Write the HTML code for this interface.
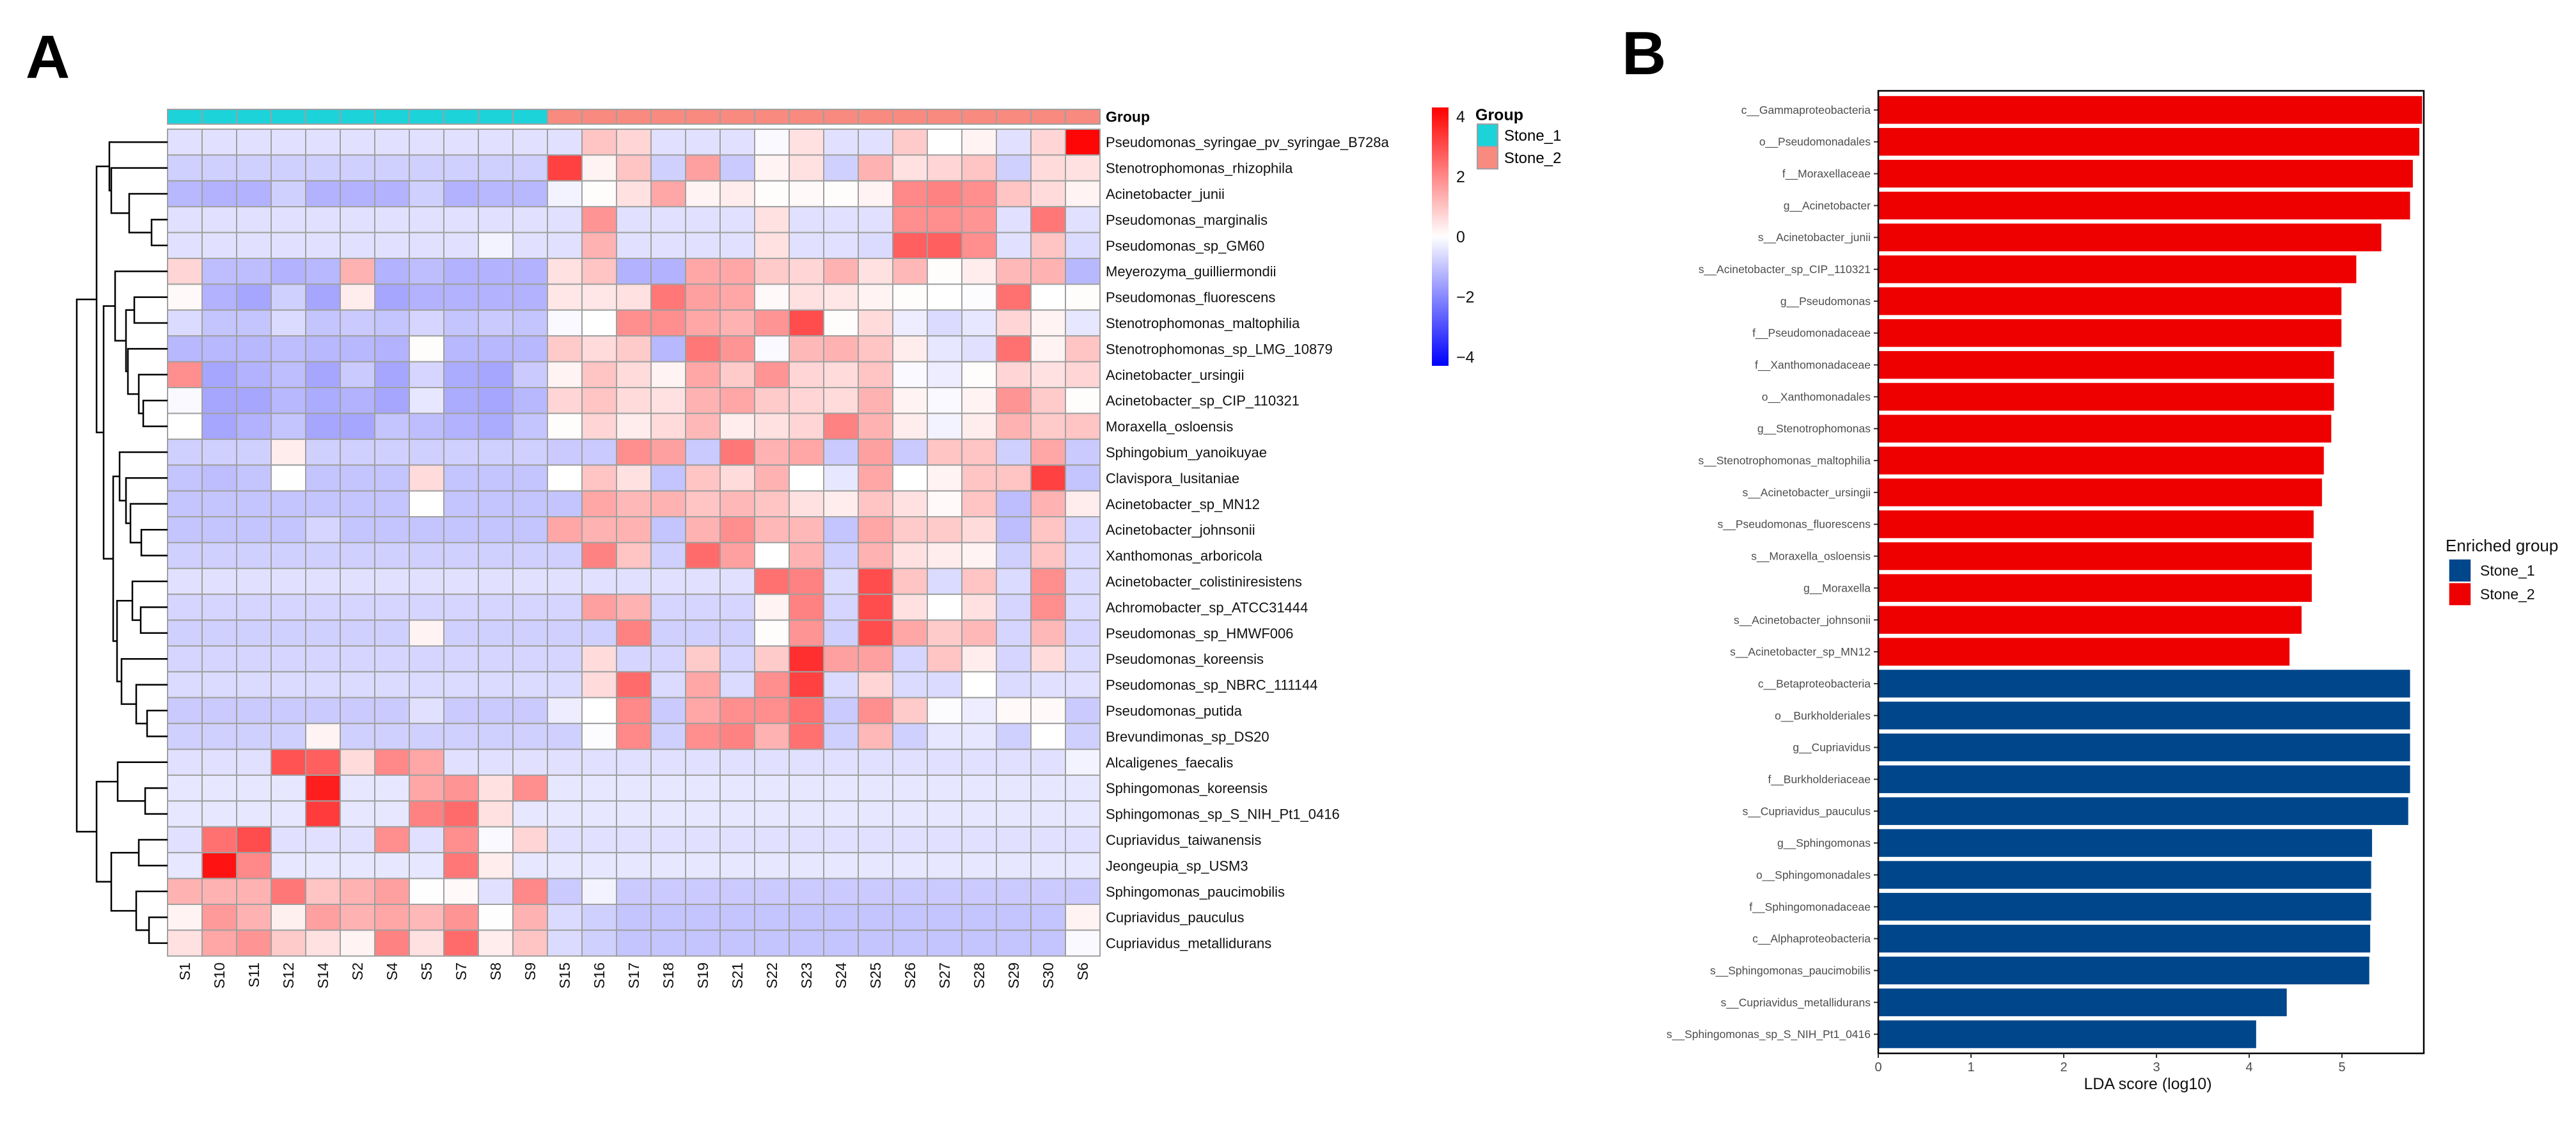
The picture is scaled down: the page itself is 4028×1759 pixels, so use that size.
<!DOCTYPE html>
<html><head><meta charset="utf-8"><style>
html,body{margin:0;padding:0;background:#fff;}
svg{display:block;font-family:"Liberation Sans",Arial,sans-serif;}
</style></head><body>
<svg id="fig" width="4028" height="1759" viewBox="0 0 4028 1759" xmlns="http://www.w3.org/2000/svg">
<rect width="4028" height="1759" fill="#fff"/>
<text x="40" y="122" font-size="96" font-weight="bold">A</text>
<text x="2536" y="116" font-size="96" font-weight="bold">B</text>
<g id="heat"></g>
<g id="dendro"></g>
<g id="cbar"></g>
<g id="glegend"></g>
<g id="lda"></g>
</svg>
<script>
const NS="http://www.w3.org/2000/svg";
// ---------- Panel A data ----------
const samples=["S1","S10","S11","S12","S14","S2","S4","S5","S7","S8","S9","S15","S16","S17","S18","S19","S21","S22","S23","S24","S25","S26","S27","S28","S29","S30","S6"];
const sampleGroups=[1,1,1,1,1,1,1,1,1,1,1,2,2,2,2,2,2,2,2,2,2,2,2,2,2,2,2];
const taxa=["Pseudomonas_syringae_pv_syringae_B728a","Stenotrophomonas_rhizophila","Acinetobacter_junii","Pseudomonas_marginalis","Pseudomonas_sp_GM60","Meyerozyma_guilliermondii","Pseudomonas_fluorescens","Stenotrophomonas_maltophilia","Stenotrophomonas_sp_LMG_10879","Acinetobacter_ursingii","Acinetobacter_sp_CIP_110321","Moraxella_osloensis","Sphingobium_yanoikuyae","Clavispora_lusitaniae","Acinetobacter_sp_MN12","Acinetobacter_johnsonii","Xanthomonas_arboricola","Acinetobacter_colistiniresistens","Achromobacter_sp_ATCC31444","Pseudomonas_sp_HMWF006","Pseudomonas_koreensis","Pseudomonas_sp_NBRC_111144","Pseudomonas_putida","Brevundimonas_sp_DS20","Alcaligenes_faecalis","Sphingomonas_koreensis","Sphingomonas_sp_S_NIH_Pt1_0416","Cupriavidus_taiwanensis","Jeongeupia_sp_USM3","Sphingomonas_paucimobilis","Cupriavidus_pauculus","Cupriavidus_metallidurans"];
const zscores=[
[-0.5,-0.5,-0.5,-0.5,-0.5,-0.5,-0.5,-0.5,-0.5,-0.5,-0.5,-0.5,1.0,0.7,-0.5,-0.5,-0.5,-0.1,0.5,-0.5,-0.5,0.9,0,0.2,-0.5,0.7,4.2],
[-0.8,-0.8,-0.8,-0.8,-0.8,-0.8,-0.8,-0.8,-0.8,-0.8,-0.8,3.2,0.2,1.0,-0.8,1.6,-0.9,0.2,0.5,-0.8,1.3,0.5,0.7,1.0,-0.8,0.6,0.5],
[-1.2,-1.3,-1.3,-0.8,-1.3,-1.3,-1.3,-0.8,-1.3,-1.2,-1.2,-0.2,0.05,0.5,1.5,0.2,0.3,0.05,0.1,0.05,0.2,2.0,2.1,1.9,1.0,0.6,0.2],
[-0.5,-0.5,-0.5,-0.5,-0.5,-0.5,-0.5,-0.5,-0.5,-0.5,-0.5,-0.5,1.8,-0.5,-0.5,-0.5,-0.5,0.5,-0.5,-0.5,-0.5,1.9,1.9,1.8,-0.5,2.3,-0.5],
[-0.5,-0.5,-0.5,-0.5,-0.5,-0.5,-0.5,-0.5,-0.5,-0.2,-0.5,-0.5,1.3,-0.5,-0.5,-0.5,-0.5,0.5,-0.5,-0.5,-0.6,2.7,2.7,1.9,-0.5,1.0,-0.6],
[0.7,-1.1,-1.1,-1.3,-1.2,1.3,-1.3,-1.1,-1.3,-1.3,-1.3,0.5,1.0,-1.3,-1.3,1.5,1.5,0.9,0.7,1.3,0.5,1.2,0.05,0.3,1.2,1.3,-1.2],
[0.1,-1.3,-1.5,-0.8,-1.5,0.3,-1.5,-1.3,-1.3,-1.3,-1.3,0.4,0.4,0.5,2.3,1.6,1.5,0.1,0.5,0.4,0.2,0.05,0,-0.05,2.4,0,0.05],
[-0.6,-1.0,-1.0,-0.6,-1.0,-0.9,-1.0,-0.7,-1.0,-0.9,-1.0,-0.1,0,1.9,1.9,1.5,1.3,1.8,3.0,0.05,0.6,-0.3,-0.6,-0.4,0.7,0.2,-0.4],
[-1.2,-1.2,-1.2,-1.1,-1.2,-1.2,-1.3,0.05,-1.2,-1.2,-1.2,0.9,0.6,0.9,-1.2,2.3,1.8,-0.1,1.2,1.3,1.0,0.3,-0.4,-0.5,2.4,0.2,1.0],
[1.9,-1.5,-1.3,-1.1,-1.5,-0.9,-1.5,-0.7,-1.4,-1.5,-0.9,0.2,1.0,0.6,0.2,1.5,0.9,1.8,0.7,0.6,1.0,-0.1,-0.3,0.05,0.7,0.5,0.7],
[-0.1,-1.5,-1.5,-1.2,-1.4,-1.3,-1.5,-0.4,-1.4,-1.5,-1.2,0.7,1.0,0.6,0.5,1.3,1.5,0.9,0.7,0.6,1.3,0.2,-0.1,0.2,1.8,0.9,0.05],
[0,-1.5,-1.3,-1.0,-1.5,-1.5,-1.0,-1.1,-1.3,-1.4,-1.0,0.05,0.7,0.3,0.6,1.2,0.3,0.5,0.7,2.1,1.3,0.3,-0.2,0.3,1.3,0.9,1.0],
[-0.8,-0.8,-0.8,0.3,-0.8,-0.8,-0.8,-0.8,-0.8,-0.8,-0.8,-0.9,-0.9,1.9,1.6,-0.9,2.3,1.3,1.5,-0.9,1.6,-0.9,1.0,1.0,-0.8,1.5,-0.9],
[-1.0,-1.1,-1.0,0.02,-1.0,-1.0,-1.0,0.6,-1.0,-1.0,-1.0,0,1.0,0.5,-1.0,1.0,0.6,1.3,0,-0.4,1.5,0,0.2,1.0,1.0,3.2,-1.0],
[-1.0,-1.0,-1.0,-1.0,-1.0,-1.0,-1.0,0,-1.0,-1.0,-1.0,-1.0,1.5,1.2,1.3,1.0,1.2,1.0,0.5,0.3,1.0,0.5,0.1,1.0,-1.1,1.3,0.3],
[-1.0,-1.0,-1.0,-1.0,-0.7,-1.0,-1.0,-1.0,-1.0,-1.0,-1.0,1.5,1.3,1.3,-1.0,1.3,1.9,1.2,1.2,-1.0,1.5,0.9,0.9,0.6,-1.1,1.0,-0.7],
[-0.8,-0.8,-0.8,-0.8,-0.8,-0.8,-0.8,-0.8,-0.8,-0.8,-0.8,-0.8,2.1,1.0,-0.8,2.5,1.6,0,1.3,-0.8,1.3,0.5,0.3,0.2,-0.8,1.0,-0.6],
[-0.5,-0.5,-0.5,-0.5,-0.5,-0.5,-0.5,-0.5,-0.5,-0.5,-0.5,-0.5,-0.5,-0.5,-0.5,-0.5,-0.5,2.4,2.1,-0.6,3.0,1.0,-0.6,1.0,-0.6,1.9,-0.6],
[-0.7,-0.7,-0.7,-0.7,-0.7,-0.7,-0.7,-0.7,-0.7,-0.7,-0.7,-0.7,1.6,1.3,-0.7,-0.7,-0.7,0.2,2.1,-0.7,3.0,0.5,0,0.5,-0.7,1.9,-0.6],
[-0.8,-0.8,-0.8,-0.8,-0.8,-0.8,-0.8,0.2,-0.8,-0.8,-0.8,-0.8,-0.8,2.1,-0.8,-0.8,-0.8,0.05,1.8,-0.8,3.0,1.5,0.9,1.2,-0.7,1.2,-0.7],
[-0.7,-0.7,-0.7,-0.7,-0.7,-0.7,-0.7,-0.7,-0.7,-0.7,-0.7,-0.7,0.6,-0.7,-0.7,0.9,-0.7,0.9,3.5,1.6,1.6,-0.7,1.0,0.3,-0.7,0.6,-0.6],
[-0.6,-0.6,-0.6,-0.6,-0.6,-0.6,-0.6,-0.6,-0.6,-0.6,-0.6,-0.6,0.6,2.5,-0.6,1.5,-0.6,1.9,3.2,-0.6,0.7,-0.6,-0.6,0,-0.6,-0.5,-0.5],
[-0.9,-0.9,-0.9,-0.9,-0.9,-0.9,-0.9,-0.5,-0.9,-0.9,-0.9,-0.3,0,2.0,-0.9,1.5,1.9,1.9,2.4,-0.9,1.9,0.9,-0.05,-0.3,0.1,0.1,-0.9],
[-0.8,-0.8,-0.8,-0.8,0.2,-0.8,-0.8,-0.8,-0.8,-0.8,-0.8,-0.8,-0.05,2.0,-0.8,1.9,2.1,1.3,2.4,-0.8,1.2,-0.8,-0.4,-0.4,-0.8,0,-0.8],
[-0.5,-0.5,-0.5,2.9,2.7,0.6,2.0,1.5,-0.5,-0.5,-0.5,-0.5,-0.5,-0.5,-0.5,-0.5,-0.5,-0.5,-0.5,-0.5,-0.5,-0.5,-0.5,-0.5,-0.5,-0.5,-0.2],
[-0.4,-0.4,-0.4,-0.4,3.8,-0.4,-0.4,1.5,1.8,0.5,1.9,-0.4,-0.4,-0.4,-0.4,-0.4,-0.4,-0.4,-0.4,-0.4,-0.4,-0.4,-0.4,-0.4,-0.4,-0.4,-0.4],
[-0.4,-0.4,-0.4,-0.4,3.3,-0.4,-0.4,2.1,2.5,0.5,-0.4,-0.4,-0.4,-0.4,-0.4,-0.4,-0.4,-0.4,-0.4,-0.4,-0.4,-0.4,-0.4,-0.4,-0.4,-0.4,-0.4],
[-0.5,2.4,3.0,-0.5,-0.5,-0.5,1.9,-0.5,1.9,-0.1,0.7,-0.5,-0.5,-0.5,-0.5,-0.5,-0.5,-0.5,-0.5,-0.5,-0.5,-0.5,-0.5,-0.5,-0.5,-0.5,-0.5],
[-0.4,4.0,2.0,-0.4,-0.4,-0.4,-0.4,-0.4,2.3,0.3,-0.4,-0.4,-0.4,-0.4,-0.4,-0.4,-0.4,-0.4,-0.4,-0.4,-0.4,-0.4,-0.4,-0.4,-0.4,-0.4,-0.4],
[1.3,1.3,1.3,2.3,1.0,1.3,1.6,0.02,0.1,-0.5,2.0,-0.9,-0.2,-0.9,-0.9,-0.9,-0.9,-0.9,-0.9,-0.9,-0.9,-0.9,-0.9,-0.9,-0.9,-0.9,-0.9],
[0.2,1.7,1.3,0.25,1.6,1.3,1.5,1.2,1.8,0.02,1.3,-0.6,-0.8,-1.0,-1.0,-1.0,-1.0,-1.0,-1.0,-1.0,-1.0,-1.0,-1.0,-1.0,-1.0,-1.0,0.2],
[0.5,1.5,1.8,0.9,0.5,0.2,2.1,0.5,2.5,0.3,1.0,-0.6,-0.8,-1.0,-1.0,-1.0,-1.0,-1.0,-1.0,-1.0,-1.0,-1.0,-1.0,-1.0,-1.0,-1.0,-0.1]
];
const colorTicks=[4,2,0,-2,-4];
// dendrogram: [mergeHeight, left, right]; leaves are row indices
const rowTree=[142,
 [111,
  [91,0,[88,1,[60,2,[25,3,4]]]],
  [100,
   [82,5,[65,[52,6,7],[62,8,[45,9,[38,10,11]]]]],
   [85,[75,12,[65,13,[58,14,[41,15,16]]]],[79,[55,17,[42,18,19]],[72,20,[49,21,[32,22,23]]]]]]],
 [111,[78,24,[35,25,26]],[88,[45,27,28],[49,29,[29,30,31]]]]];
// ---------- Panel B data ----------
const ldaTaxa=["c__Gammaproteobacteria","o__Pseudomonadales","f__Moraxellaceae","g__Acinetobacter","s__Acinetobacter_junii","s__Acinetobacter_sp_CIP_110321","g__Pseudomonas","f__Pseudomonadaceae","f__Xanthomonadaceae","o__Xanthomonadales","g__Stenotrophomonas","s__Stenotrophomonas_maltophilia","s__Acinetobacter_ursingii","s__Pseudomonas_fluorescens","s__Moraxella_osloensis","g__Moraxella","s__Acinetobacter_johnsonii","s__Acinetobacter_sp_MN12","c__Betaproteobacteria","o__Burkholderiales","g__Cupriavidus","f__Burkholderiaceae","s__Cupriavidus_pauculus","g__Sphingomonas","o__Sphingomonadales","f__Sphingomonadaceae","c__Alphaproteobacteria","s__Sphingomonas_paucimobilis","s__Cupriavidus_metallidurans","s__Sphingomonas_sp_S_NIH_Pt1_0416"];
const ldaScores=[5.87,5.84,5.77,5.74,5.43,5.16,5.00,5.00,4.92,4.92,4.89,4.81,4.79,4.70,4.68,4.68,4.57,4.44,5.74,5.74,5.74,5.74,5.72,5.33,5.32,5.32,5.31,5.30,4.41,4.08];
const ldaGroups=["Stone_2","Stone_2","Stone_2","Stone_2","Stone_2","Stone_2","Stone_2","Stone_2","Stone_2","Stone_2","Stone_2","Stone_2","Stone_2","Stone_2","Stone_2","Stone_2","Stone_2","Stone_2","Stone_1","Stone_1","Stone_1","Stone_1","Stone_1","Stone_1","Stone_1","Stone_1","Stone_1","Stone_1","Stone_1","Stone_1"];
const ldaTicks=[0,1,2,3,4,5];

function mk(tag,attrs,parent,text){const e=document.createElementNS(NS,tag);for(const k in attrs)e.setAttribute(k,attrs[k]);if(text!==undefined)e.textContent=text;parent.appendChild(e);return e;}
// ---------- heatmap ----------
const HX=262,CW=54.0,HY=202,RH=40.4,GY=171,GH=23;
const colX=c=>HX+c*CW, rowY=r=>HY+r*RH;
function zcol(v){const t=Math.min(1,Math.abs(v)/4.3);const w=Math.round(255*(1-t));return v>=0?`rgb(255,${w},${w})`:`rgb(${w},${w},255)`;}
const heat=document.getElementById('heat');
const grpCol={1:"#1DD3DA",2:"#F88A80"};
samples.forEach((s,c)=>{
  const r=mk('rect',{x:colX(c),y:GY,width:CW,height:GH,fill:grpCol[sampleGroups[c]],stroke:"#A0A0A0","stroke-width":2},heat);
  
  
});
const gl=mk('text',{x:HX+samples.length*CW+9,y:GY+GH/2+8,"font-size":23,"font-weight":"bold"},heat,"Group");


zscores.forEach((row,r)=>{
  row.forEach((v,c)=>{
    const e=mk('rect',{x:colX(c),y:rowY(r),width:CW,height:RH,fill:zcol(v),stroke:"#A0A0A0","stroke-width":2},heat);
    
    
  });
  const t=mk('text',{x:HX+samples.length*CW+9,y:rowY(r)+RH/2+8,"font-size":22,fill:"#111"},heat,taxa[r]);
  
  
});
const xlY=rowY(taxa.length)+10;
samples.forEach((s,c)=>{
  const cx=colX(c)+CW/2+8;
  const t=mk('text',{x:cx,y:xlY,"font-size":23,fill:"#111","text-anchor":"end",transform:`rotate(-90 ${cx} ${xlY})`},heat,s);
  
  
});
// ---------- dendrogram ----------
const dg=document.getElementById('dendro');
const dx=h=>HX-h*(142/142);
function drawTree(n){
  if(typeof n==='number')return {y:rowY(n)+RH/2,h:0};
  const L=drawTree(n[1]),R=drawTree(n[2]);const x=dx(n[0]);
  const p=mk('path',{d:`M${dx(L.h)},${L.y}H${x}V${R.y}H${dx(R.h)}`,fill:"none",stroke:"#000","stroke-width":2.5},dg);
  
  
  return {y:(L.y+R.y)/2,h:n[0]};
}
drawTree(rowTree);
// ---------- color bar ----------
const cb=document.getElementById('cbar');
const defs=mk('defs',{},cb);
const lg=mk('linearGradient',{id:"cg",x1:0,y1:0,x2:0,y2:1},defs);
mk('stop',{offset:"0","stop-color":"#FF0000"},lg);mk('stop',{offset:"0.5","stop-color":"#FFFFFF"},lg);mk('stop',{offset:"1","stop-color":"#0000FF"},lg);
const CBT=168,CBB=572,cbY=v=>(CBT+CBB)/2-v*((CBB-CBT)/2/4.3);
const cbr=mk('rect',{x:2239,y:CBT,width:26,height:CBB-CBT,fill:"url(#cg)"},cb);


colorTicks.forEach(v=>{
  const t=mk('text',{x:2277,y:cbY(v)+9,"font-size":25,fill:"#111"},cb,v<0?"\u2212"+Math.abs(v):String(v));
  
  
});
// ---------- group legend ----------
const gleg=document.getElementById('glegend');
const glt=mk('text',{x:2307,y:188,"font-size":25,"font-weight":"bold"},gleg,"Group");


[["Stone_1",grpCol[1]],["Stone_2",grpCol[2]]].forEach((g,i)=>{
  const y=194+i*35;
  const r=mk('rect',{x:2310,y:y,width:32,height:35,fill:g[1],stroke:"#A0A0A0","stroke-width":2},gleg);
  
  
  const t=mk('text',{x:2352,y:y+26,"font-size":24},gleg,g[0]);
  
  
});
// ---------- LDA bar chart ----------
const lda=document.getElementById('lda');
const PL=2937,PR=3790,PT=142,PB=1647;
const xs=v=>PL+v*145;
const step=(PB-PT)/(ldaTaxa.length+0.2);
const yc=i=>PT+(i+0.6)*step;
const barCol={"Stone_1":"#00468B","Stone_2":"#EE0000"};
ldaTaxa.forEach((n,i)=>{
  const b=mk('rect',{x:PL,y:yc(i)-0.45*step,width:xs(ldaScores[i])-PL,height:0.9*step,fill:barCol[ldaGroups[i]],stroke:"#fff","stroke-width":1.5},lda);
  
  
  mk('line',{x1:PL-7,x2:PL,y1:yc(i),y2:yc(i),stroke:"#333","stroke-width":2},lda);
  const t=mk('text',{x:PL-12,y:yc(i)+6,"font-size":17.5,fill:"#4D4D4D","text-anchor":"end"},lda,n);
  
  
});
const fr=mk('rect',{x:PL,y:PT,width:PR-PL,height:PB-PT,fill:"none",stroke:"#000","stroke-width":2.5},lda);


ldaTicks.forEach(v=>{
  mk('line',{x1:xs(v),x2:xs(v),y1:PB,y2:PB+7,stroke:"#333","stroke-width":2},lda);
  const t=mk('text',{x:xs(v),y:PB+28,"font-size":20,fill:"#4D4D4D","text-anchor":"middle"},lda,String(v));
  
  
});
const xt=mk('text',{x:(PL+PR)/2-5,y:1703,"font-size":25,fill:"#111","text-anchor":"middle"},lda,"LDA score (log10)");


const lt=mk('text',{x:3824,y:862,"font-size":26,fill:"#111"},lda,"Enriched group");


["Stone_1","Stone_2"].forEach((g,i)=>{
  const y=874+i*37;
  const r=mk('rect',{x:3829,y:y,width:35,height:36,fill:barCol[g],stroke:"#fff","stroke-width":1.5},lda);
  
  
  const t=mk('text',{x:3878,y:y+26,"font-size":23,fill:"#111"},lda,g);
  
  
});
</script>
</body></html>
